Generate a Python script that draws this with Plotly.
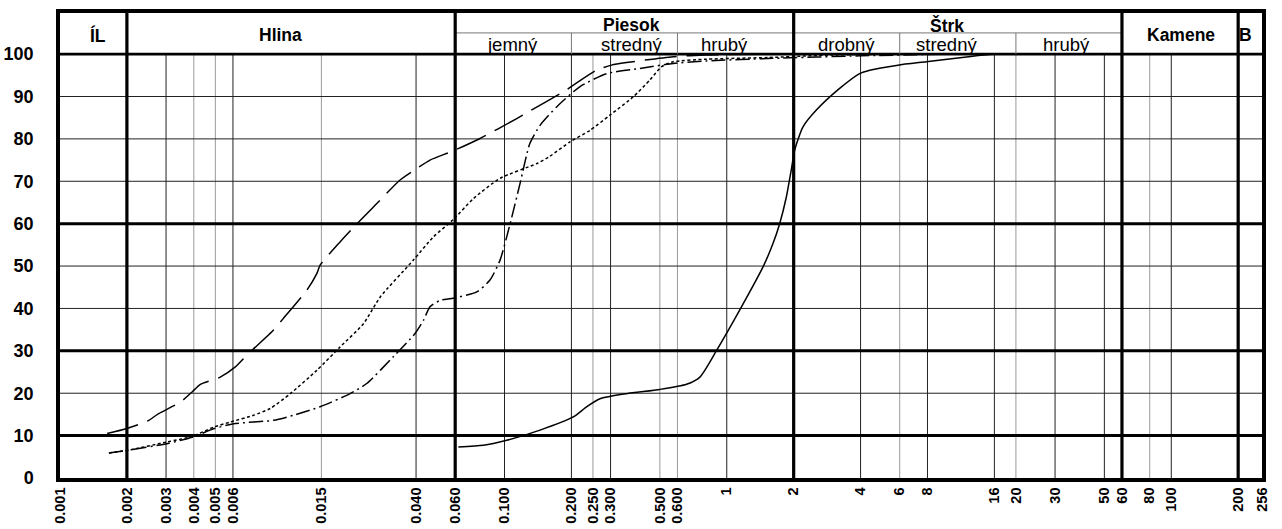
import numpy as np
import plotly.graph_objects as go

# ---------------- data ----------------
# grain size [mm] and passing [%] for the four samples
c1_d = [0.00163, 0.002, 0.00247, 0.00278, 0.00348, 0.00393, 0.00428, 0.00526, 0.00615, 0.00694,
        0.00914, 0.0101, 0.0129, 0.0143, 0.0148, 0.0182, 0.0217, 0.0267, 0.0339, 0.0403, 0.0462,
        0.0589, 0.0776, 0.1135, 0.128, 0.184, 0.211, 0.259, 0.303, 0.354, 0.574, 0.8, 1.5]
c1_p = [10.5, 11.7, 13.4, 15.2, 17.9, 20.3, 22.1, 23.8, 26.2, 29,
        34.9, 37.6, 44.3, 48.2, 50.2, 55.7, 60, 64.8, 70.3, 73, 75,
        77.2, 80.1, 84.8, 86.4, 91.1, 93.2, 96.2, 97.4, 98, 99.4, 99.8, 100]

c2_d = [0.00166, 0.002, 0.00303, 0.00393, 0.00491, 0.00584, 0.00743, 0.00883, 0.01087, 0.0143,
        0.0182, 0.0232, 0.0276, 0.0389, 0.0479, 0.0589, 0.0724, 0.0955, 0.14, 0.159, 0.197,
        0.242, 0.298, 0.379, 0.451, 0.508, 0.574, 0.811, 1.54, 3.0, 6]
c2_p = [5.9, 6.5, 8.5, 9.8, 12, 13.2, 14.8, 16.4, 19.9, 25.4,
        30.9, 36.4, 42.7, 51.4, 56.9, 61, 65.9, 70.7, 74.2, 75.8, 79.3,
        82, 85.6, 89.9, 93.9, 97, 98.2, 98.8, 99.2, 99.8, 100]

c3_d = [0.00166, 0.002, 0.00303, 0.00393, 0.00491, 0.00604, 0.00914, 0.01124, 0.0148, 0.0202,
        0.024, 0.0316, 0.0396, 0.0432, 0.0462, 0.0513, 0.0589, 0.075, 0.086, 0.0955, 0.106,
        0.1175, 0.130, 0.1445, 0.172, 0.218, 0.288, 0.406, 0.574, 0.811, 1.61, 4, 10]
c3_p = [5.9, 6.5, 8.1, 9.6, 11.6, 12.8, 13.6, 14.8, 16.8, 19.9,
        22.3, 28.6, 34.1, 37.2, 40.4, 41.9, 42.4, 43.9, 46.7, 51.4, 60,
        69.5, 78.9, 83.2, 87.6, 92.3, 95.4, 96.6, 97.8, 98.4, 99, 99.6, 100]

c4_d = [0.062, 0.0803, 0.1023, 0.1445, 0.204, 0.234, 0.269, 0.354, 0.5, 0.659, 0.757, 0.9,
        1.143, 1.456, 1.614, 1.73, 1.854, 1.95, 2.02, 2.2, 2.53, 3.22, 3.96, 4.4, 5.89, 7.9,
        12.8, 16]
c4_p = [7.3, 7.7, 8.9, 11.3, 14.4, 16.8, 18.7, 19.9, 20.9, 22.1, 23.8, 30.1,
        39.6, 49.8, 55.3, 60, 66.3, 72.6, 77.3, 82.8, 86.8, 91.9, 95.4, 96.2, 97.4, 98.2,
        99.5, 100]

# axis ticks
x_ticks = [0.001, 0.002, 0.003, 0.004, 0.005, 0.006, 0.015, 0.040, 0.060, 0.100, 0.200, 0.250,
           0.300, 0.500, 0.600, 1, 2, 4, 6, 8, 16, 20, 30, 50, 60, 80, 100, 200, 256]
x_ticktext = ["0.001", "0.002", "0.003", "0.004", "0.005", "0.006", "0.015", "0.040", "0.060",
              "0.100", "0.200", "0.250", "0.300", "0.500", "0.600", "1", "2", "4", "6", "8",
              "16", "20", "30", "50", "60", "80", "100", "200", "256"]
y_ticks = [0, 10, 20, 30, 40, 50, 60, 70, 80, 90, 100]

# grid lines
grid_thick_x = [0.002, 0.06, 2, 60, 200]
grid_dark_x = [0.003, 0.006, 0.04, 0.1, 0.2, 0.3, 1, 4, 8, 16, 30, 50, 100]
grid_grey_x = [0.004, 0.005, 0.015, 0.25, 0.5, 0.6, 6, 20, 80]
grid_thick_y = [10, 30, 60]
grid_thin_y = [20, 40, 50, 70, 80, 90]

# header (soil classes)
main_labels = ["ÍL", "Hlina", "Piesok", "Štrk", "Kamene", "B"]
main_label_x = [0.00148, 0.0098, 0.373, 9.75, 111, 216]
main_label_y = [104.5, 104.5, 106.8, 106.8, 104.5, 104.5]
sub_labels = ["jemný", "stredný", "hrubý", "drobný", "stredný", "hrubý"]
sub_label_x = [0.1085, 0.373, 0.978, 3.44, 9.75, 33.9]
sub_dividers = [0.2, 0.6, 6, 20]
sub_row_span = [0.06, 60]

Y_TOP = 109.7
HDR_SUB = 105.0

fig = go.Figure()

shapes = []
def vline(x, y0, y1, w, c):
    shapes.append(dict(type="line", xref="x", yref="y", x0=x, x1=x, y0=y0, y1=y1,
                       line=dict(color=c, width=w), layer="below"))
def hline(y, x0, x1, w, c):
    shapes.append(dict(type="line", xref="x", yref="y", x0=x0, x1=x1, y0=y, y1=y,
                       line=dict(color=c, width=w), layer="below"))

for x in grid_grey_x:
    vline(x, 0, 100, 1, "#9a9a9a")
for x in grid_dark_x:
    vline(x, 0, 100, 1, "#222222")
for y in grid_thin_y:
    hline(y, 0.0009, 300, 1, "#222222")
for y in grid_thick_y:
    hline(y, 0.0009, 300, 3, "#000000")
hline(100, 0.0009, 300, 2.6, "#000000")
hline(HDR_SUB, sub_row_span[0], sub_row_span[1], 1, "#777777")
for x in sub_dividers:
    vline(x, 100, HDR_SUB, 1, "#777777")
for x in grid_thick_x:
    vline(x, 0, Y_TOP, 3.2, "#000000")

styles = [
    (c1_d, c1_p, "32px,10px"),
    (c2_d, c2_p, "3px,2.5px"),
    (c3_d, c3_p, "14px,4px,2px,4px"),
    (c4_d, c4_p, "solid"),
]
for d, p, dash in styles:
    fig.add_trace(go.Scatter(x=d, y=p, mode="lines",
                             line=dict(color="black", width=1.5, dash=dash,
                                       shape="spline", smoothing=0.6),
                             showlegend=False, hoverinfo="skip"))

annotations = []
for t, x, y in zip(main_labels, main_label_x, main_label_y):
    annotations.append(dict(text=t, x=np.log10(x), y=y, xref="x", yref="y",
                            showarrow=False, xanchor="center", yanchor="middle",
                            font=dict(family="Liberation Sans", size=17.5, color="black",
                                      weight="bold")))
for t, x in zip(sub_labels, sub_label_x):
    annotations.append(dict(text=t, x=np.log10(x), y=102.3, xref="x", yref="y",
                            showarrow=False, xanchor="center", yanchor="middle",
                            font=dict(family="Liberation Sans", size=18.5, color="black")))

fig.update_layout(
    width=1282, height=529,
    margin=dict(l=60, r=20, t=13, b=51, pad=0),
    paper_bgcolor="white", plot_bgcolor="white",
    shapes=shapes, annotations=annotations,
    xaxis=dict(type="log", range=[np.log10(0.001), np.log10(256)], automargin=False,
               tickvals=x_ticks, ticktext=x_ticktext, tickangle=-90,
               tickfont=dict(family="Liberation Sans", size=14.5, color="black", weight="bold"),
               showgrid=False, zeroline=False, showline=True, linewidth=3.5,
               linecolor="black", mirror=True, ticks="", ticklabelstandoff=0),
    yaxis=dict(range=[0, Y_TOP], tickvals=y_ticks, automargin=False,
               tickfont=dict(family="Liberation Sans", size=18, color="black", weight="bold"),
               showgrid=False, zeroline=False, showline=True, linewidth=3.5,
               linecolor="black", mirror=True, ticks="", ticklabelstandoff=19),
)

fig.write_html("out.html")
